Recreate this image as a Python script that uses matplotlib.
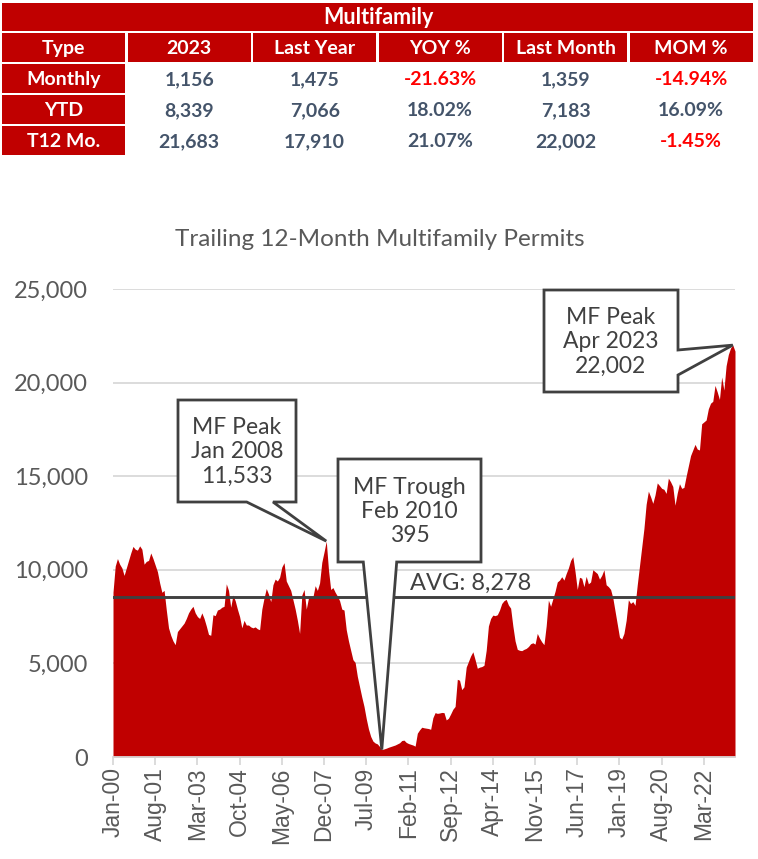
import numpy as np
import matplotlib
matplotlib.use("Agg")
import matplotlib.pyplot as plt
from matplotlib.patches import Rectangle, Polygon

# ---------------- data ----------------
table_title = "Multifamily"
table_columns = ["Type", "2023", "Last Year", "YOY %", "Last Month", "MOM %"]
row_types = ["Monthly", "YTD", "T12 Mo."]
col_2023 = ["1,156", "8,339", "21,683"]
col_last_year = ["1,475", "7,066", "17,910"]
col_yoy = ["-21.63%", "18.02%", "21.07%"]
col_last_month = ["1,359", "7,183", "22,002"]
col_mom = ["-14.94%", "16.09%", "-1.45%"]

t12_2000 = [8800, 10200, 10600, 10300, 10100, 9700, 10100, 10500, 10900, 11250, 11100, 11050]
t12_2001 = [11280, 11100, 10300, 10450, 10500, 10900, 10600, 10250, 9900, 9300, 8800, 8900]
t12_2002 = [7850, 6900, 6500, 6200, 6000, 6700, 6850, 7000, 7150, 7400, 7700, 7900]
t12_2003 = [8050, 7700, 7500, 7400, 7700, 7400, 7000, 6550, 6500, 7600, 7550, 7850]
t12_2004 = [7900, 8000, 8050, 9250, 8900, 8000, 8650, 8350, 7900, 7500, 6900, 7300]
t12_2005 = [7050, 7050, 6950, 6900, 6950, 6850, 6800, 7900, 8500, 9000, 8700, 8300]
t12_2006 = [9200, 9500, 9400, 9600, 10150, 10380, 9400, 9150, 8900, 8400, 7900, 7300]
t12_2007 = [6600, 8650, 8950, 7900, 8500, 8600, 8550, 9150, 8900, 9300, 10400, 10950]
t12_2008 = [11533, 10000, 8950, 9050, 8800, 8600, 8350, 7900, 7850, 6800, 6200, 5700]
t12_2009 = [5200, 5050, 4300, 3750, 3200, 2700, 2050, 1500, 1100, 850, 750, 700]
t12_2010 = [560, 395, 430, 470, 520, 560, 600, 640, 700, 760, 880, 900]
t12_2011 = [780, 720, 680, 640, 580, 1270, 1450, 1590, 1560, 1540, 1520, 1480]
t12_2012 = [2100, 2370, 2330, 2350, 2380, 2370, 1980, 2070, 2300, 2550, 2700, 4150]
t12_2013 = [4100, 3600, 3750, 4800, 5100, 5400, 5620, 5200, 4740, 4800, 4830, 4900]
t12_2014 = [5700, 7000, 7400, 7580, 7550, 7600, 7850, 8200, 8350, 8420, 8120, 7950]
t12_2015 = [7000, 6200, 5750, 5700, 5680, 5750, 5800, 5900, 6050, 6100, 6030, 6600]
t12_2016 = [6350, 6150, 6000, 7000, 8380, 8050, 8450, 8850, 9350, 9450, 9630, 9450]
t12_2017 = [9800, 10100, 10500, 10700, 9900, 8950, 9600, 9550, 9100, 9650, 9250, 9350]
t12_2018 = [10000, 9900, 9800, 9500, 9700, 10000, 9200, 9100, 8950, 8500, 7800, 7100]
t12_2019 = [6400, 6300, 6600, 7300, 8400, 8200, 8300, 8100, 9200, 10200, 11200, 12200]
t12_2020 = [13500, 14200, 13900, 13550, 14000, 14640, 14500, 14350, 14300, 14080, 14900, 14700]
t12_2021 = [14450, 13450, 14100, 14600, 14350, 14400, 15000, 15550, 16100, 16400, 16700, 16450]
t12_2022 = [16400, 17800, 17900, 18000, 18600, 18900, 19000, 19850, 19500, 19100, 20300, 19600]
t12_2023 = [20900, 21500, 21850, 22002, 21683]

tick_labels = ["Jan-00", "Aug-01", "Mar-03", "Oct-04", "May-06", "Dec-07", "Jul-09",
               "Feb-11", "Sep-12", "Apr-14", "Nov-15", "Jun-17", "Jan-19", "Aug-20", "Mar-22"]
tick_every = 19

avg_label = "AVG: 8,278"
avg_level = 8550

callouts = [
    # (month index, value, label lines)
    (96, 11533, "MF Peak\nJan 2008\n11,533"),
    (121, 395, "MF Trough\nFeb 2010\n395"),
    (279, 22002, "MF Peak\nApr 2023\n22,002"),
]

series = (t12_2000 + t12_2001 + t12_2002 + t12_2003 + t12_2004 + t12_2005 + t12_2006 +
          t12_2007 + t12_2008 + t12_2009 + t12_2010 + t12_2011 + t12_2012 + t12_2013 +
          t12_2014 + t12_2015 + t12_2016 + t12_2017 + t12_2018 + t12_2019 + t12_2020 +
          t12_2021 + t12_2022 + t12_2023)
values = np.array(series, dtype=float)
x = np.arange(len(values))

# ---------------- style ----------------
RED = "#C00000"
GRAY_TXT = "#595959"
DARK = "#404040"
BODY = "#44546A"
W, H = 758, 859
CAL = ["Lato", "DejaVu Sans"]

fig = plt.figure(figsize=(W / 100, H / 100), dpi=100)

# ---------------- chart ----------------
L, R, B, T = 113, 735, 757, 289
ax = fig.add_axes([L / W, (H - B) / H, (R - L) / W, (B - T) / H])
ax.fill_between(x, values, 0, color=RED, lw=0, zorder=2)
ax.set_xlim(0, len(values) - 1)
ax.set_ylim(0, 25000)
ax.set_yticks(np.arange(0, 25001, 5000))
ax.set_yticklabels([f"{int(v):,}" for v in np.arange(0, 25001, 5000)],
                   fontfamily=CAL, fontsize=17, color=GRAY_TXT)
ax.tick_params(axis="y", length=0, pad=18)
ax.yaxis.grid(True, color="#D9D9D9", lw=1.3, zorder=0)
ax.set_axisbelow(True)
tick_pos = np.arange(0, len(values), tick_every)[:len(tick_labels)]
ax.set_xticks(tick_pos)
ax.set_xticklabels(tick_labels, rotation=90, fontfamily="Liberation Sans",
                   fontsize=16.5, color=GRAY_TXT)
ax.tick_params(axis="x", length=5.5, width=1.3, color="#D9D9D9", pad=2)
for s in ["top", "left", "right"]:
    ax.spines[s].set_visible(False)
ax.spines["bottom"].set_color("#D9D9D9")
ax.spines["bottom"].set_linewidth(1.3)
ax.spines["bottom"].set_zorder(3)
ax.axhline(avg_level, color=DARK, lw=2.1, zorder=4)
ax.text(133.5, avg_level + 150, avg_label, fontfamily=CAL, fontsize=17,
        color=DARK, ha="left", va="bottom", zorder=5)

fig.text(380 / W, 1 - 240 / H, "Trailing 12-Month Multifamily Permits",
         fontfamily=CAL, fontsize=17.5, color=GRAY_TXT, ha="center", va="center")

# ---------------- overlay (pixel coords) ----------------
ov = fig.add_axes([0, 0, 1, 1], zorder=10)
ov.set_xlim(0, W)
ov.set_ylim(H, 0)
ov.axis("off")
ov.patch.set_alpha(0)

# table
col_w = 123.3
col_gap = 2.2
col_left = [2 + k * (col_w + col_gap) for k in range(6)]
ov.add_patch(Rectangle((2, 3), 751, 28, color=RED, lw=0))
ov.text(W / 2 - 1, 17.5, table_title, fontfamily=CAL, fontweight="bold",
        fontsize=15.5, color="white", ha="center", va="center")
row_tops = [33, 64, 95, 126]
row_h = 29
for k, name in enumerate(table_columns):
    ov.add_patch(Rectangle((col_left[k], row_tops[0]), col_w, row_h, color=RED, lw=0))
    ov.text(col_left[k] + col_w / 2, row_tops[0] + row_h / 2 + 1, name, fontfamily=CAL,
            fontweight="bold", fontsize=14, color="white", ha="center", va="center")
body_cols = [col_2023, col_last_year, col_yoy, col_last_month, col_mom]
for r, rname in enumerate(row_types):
    top = row_tops[r + 1]
    ov.add_patch(Rectangle((col_left[0], top), col_w, row_h, color=RED, lw=0))
    ov.text(col_left[0] + col_w / 2, top + row_h / 2 + 1, rname, fontfamily=CAL,
            fontweight="bold", fontsize=14, color="white", ha="center", va="center")
    for c, col in enumerate(body_cols):
        val = col[r]
        clr = "#FF0000" if val.startswith("-") else BODY
        ov.text(col_left[c + 1] + col_w / 2, top + row_h / 2 + 1, val, fontfamily=CAL,
                fontweight="bold", fontsize=14, color=clr, ha="center", va="center")

# callouts: box + pointer as one outline
def apex_of(idx, val):
    disp = ax.transData.transform((idx, val))
    return ov.transData.inverted().transform(disp)

boxes = [
    # (x0, y0, x1, y1, side, base_a, base_b)
    (178, 400, 296, 502, "bottom", 246.7, 273),
    (338, 459, 481, 562, "bottom", 363.3, 396.7),
    (544, 290, 678, 392, "right", 350, 375),
]
for (idx, val, label), (x0, y0, x1, y1, side, a, b) in zip(callouts, boxes):
    ax_, ay_ = apex_of(idx, val)
    if side == "bottom":
        pts = [(x0, y0), (x1, y0), (x1, y1), (b, y1), (ax_, ay_), (a, y1), (x0, y1)]
    else:
        pts = [(x0, y0), (x1, y0), (x1, a), (ax_, ay_), (x1, b), (x1, y1), (x0, y1)]
    ov.add_patch(Polygon(pts, closed=True, fc="white", ec=DARK, lw=2.0, joinstyle="miter"))
    ov.text((x0 + x1) / 2, (y0 + y1) / 2 + 1, label, fontfamily=CAL, fontsize=16.5,
            color=DARK, ha="center", va="center", linespacing=1.2)

fig.savefig("out.png", dpi=100)
